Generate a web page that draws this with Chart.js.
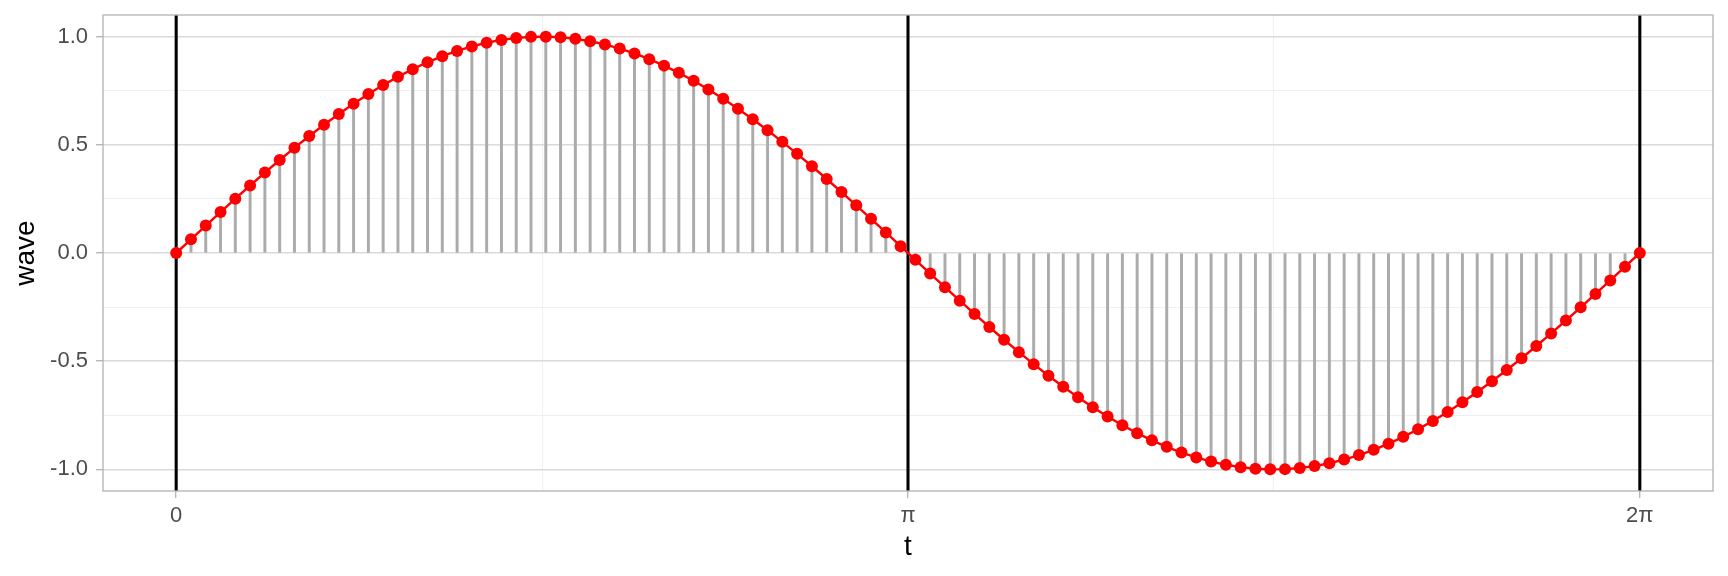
<!DOCTYPE html>
<html>
<head>
<meta charset="utf-8">
<script src="https://cdn.jsdelivr.net/npm/chart.js@4/dist/chart.umd.min.js"></script>
<style>
  html, body { margin: 0; padding: 0; background: #ffffff; }
  #wrap { width: 1728px; height: 576px; }
</style>
</head>
<body>
<div id="wrap"><canvas id="c" width="1728" height="576" style="width:1728px;height:576px"></canvas></div>
<script>
// ---- data ----
const tValues = [
  0.0000, 0.0635, 0.1269, 0.1904, 0.2539, 0.3173, 0.3808, 0.4443, 0.5077, 0.5712,
  0.6347, 0.6981, 0.7616, 0.8251, 0.8885, 0.9520, 1.0155, 1.0789, 1.1424, 1.2059,
  1.2693, 1.3328, 1.3963, 1.4597, 1.5232, 1.5867, 1.6501, 1.7136, 1.7771, 1.8405,
  1.9040, 1.9675, 2.0309, 2.0944, 2.1579, 2.2213, 2.2848, 2.3483, 2.4117, 2.4752,
  2.5387, 2.6021, 2.6656, 2.7291, 2.7925, 2.8560, 2.9195, 2.9829, 3.0464, 3.1099,
  3.1733, 3.2368, 3.3003, 3.3637, 3.4272, 3.4907, 3.5541, 3.6176, 3.6811, 3.7445,
  3.8080, 3.8715, 3.9349, 3.9984, 4.0619, 4.1253, 4.1888, 4.2523, 4.3157, 4.3792,
  4.4427, 4.5061, 4.5696, 4.6331, 4.6965, 4.7600, 4.8235, 4.8869, 4.9504, 5.0139,
  5.0773, 5.1408, 5.2043, 5.2677, 5.3312, 5.3947, 5.4581, 5.5216, 5.5851, 5.6485,
  5.7120, 5.7755, 5.8389, 5.9024, 5.9659, 6.0293, 6.0928, 6.1563, 6.2197, 6.2832
];
const waveValues = [
  0.0000, 0.0634, 0.1266, 0.1893, 0.2511, 0.3120, 0.3717, 0.4298, 0.4862, 0.5406,
  0.5929, 0.6428, 0.6901, 0.7346, 0.7761, 0.8146, 0.8497, 0.8815, 0.9096, 0.9341,
  0.9549, 0.9718, 0.9848, 0.9938, 0.9989, 0.9999, 0.9969, 0.9898, 0.9788, 0.9639,
  0.9450, 0.9224, 0.8960, 0.8660, 0.8326, 0.7958, 0.7558, 0.7127, 0.6668, 0.6182,
  0.5671, 0.5137, 0.4582, 0.4009, 0.3420, 0.2817, 0.2203, 0.1580, 0.0951, 0.0317,
  -0.0317, -0.0951, -0.1580, -0.2203, -0.2817, -0.3420, -0.4009, -0.4582, -0.5137, -0.5671,
  -0.6182, -0.6668, -0.7127, -0.7558, -0.7958, -0.8326, -0.8660, -0.8960, -0.9224, -0.9450,
  -0.9639, -0.9788, -0.9898, -0.9969, -0.9999, -0.9989, -0.9938, -0.9848, -0.9718, -0.9549,
  -0.9341, -0.9096, -0.8815, -0.8497, -0.8146, -0.7761, -0.7346, -0.6901, -0.6428, -0.5929,
  -0.5406, -0.4862, -0.4298, -0.3717, -0.3120, -0.2511, -0.1893, -0.1266, -0.0634, 0.0000
];
const vlineT = [0, 3.14159, 6.28319];
const xMajorTicks = [0, 3.14159, 6.28319];
const xMajorLabels = ['0', 'π', '2π'];
const xMinorTicks = [1.5708, 4.71239];
const yMajorTicks = [-1, -0.5, 0, 0.5, 1];
const yMinorTicks = [-0.75, -0.25, 0.25, 0.75];
const xLimits = [-0.31416, 6.59734];
const yLimits = [-1.1, 1.1];

// ---- build datasets ----
const wavePoints = tValues.map((t, i) => ({ x: t, y: waveValues[i] }));
const segmentBars = tValues.map((t, i) => ({ x: t, y: [0, waveValues[i]] }));
const vlineBars = vlineT.map(t => ({ x: t, y: [yLimits[0], yLimits[1]] }));

const isIn = (arr, v) => arr.some(a => Math.abs(a - v) < 1e-6);

const MAJOR_GRID = '#dadada';
const MINOR_GRID = '#ebebeb';
const TICK_COL = '#b3b3b3';
const TEXT_COL = '#4d4d4d';
const FONT = "'Liberation Sans', Arial, Helvetica, sans-serif";

const borderPlugin = {
  id: 'panelBorder',
  afterDatasetsDraw(chart) {
    const { ctx, chartArea: a } = chart;
    ctx.save();
    ctx.strokeStyle = '#b3b3b3';
    ctx.lineWidth = 1.3;
    ctx.strokeRect(a.left, a.top, a.right - a.left, a.bottom - a.top);
    ctx.restore();
  }
};

new Chart(document.getElementById('c'), {
  type: 'scatter',
  data: {
    datasets: [
      {
        type: 'scatter',
        label: 'points',
        data: wavePoints,
        pointRadius: 6,
        pointHoverRadius: 6,
        pointBackgroundColor: '#ff0000',
        pointBorderColor: '#ff0000',
        pointBorderWidth: 0,
        showLine: false,
        order: 0
      },
      {
        type: 'line',
        label: 'line',
        data: wavePoints,
        borderColor: '#ff0000',
        borderWidth: 2.4,
        pointRadius: 0,
        tension: 0,
        fill: false,
        order: 1
      },
      {
        type: 'bar',
        label: 'segments',
        data: segmentBars,
        backgroundColor: '#ababab',
        borderWidth: 0,
        barThickness: 2.3,
        grouped: false,
        order: 2
      },
      {
        type: 'bar',
        label: 'vlines',
        data: vlineBars,
        backgroundColor: '#000000',
        borderWidth: 0,
        barThickness: 2.4,
        grouped: false,
        order: 3
      }
    ]
  },
  options: {
    responsive: false,
    devicePixelRatio: 1,
    animation: false,
    layout: { padding: { top: 15, right: 15, left: 0, bottom: 0 } },
    plugins: {
      legend: { display: false },
      tooltip: { enabled: false },
      title: { display: false }
    },
    scales: {
      x: {
        type: 'linear',
        offset: false,
        min: xLimits[0],
        max: xLimits[1],
        afterBuildTicks: (scale) => {
          scale.ticks = xMajorTicks.concat(xMinorTicks).sort((a, b) => a - b).map(v => ({ value: v }));
        },
        afterFit: (scale) => { scale.height = 85; scale.paddingLeft = 0; scale.paddingRight = 0; },
        grid: {
          offset: false,
          drawTicks: true,
          tickLength: 7,
          tickWidth: 1.3,
          tickColor: (ctx) => (ctx.tick && isIn(xMajorTicks, ctx.tick.value)) ? TICK_COL : 'rgba(0,0,0,0)',
          color: (ctx) => (ctx.tick && isIn(xMajorTicks, ctx.tick.value)) ? MAJOR_GRID : MINOR_GRID,
          lineWidth: (ctx) => (ctx.tick && isIn(xMajorTicks, ctx.tick.value)) ? 1.4 : 0.8
        },
        border: { display: false },
        ticks: {
          autoSkip: false,
          maxRotation: 0,
          minRotation: 0,
          padding: 5,
          color: TEXT_COL,
          font: { family: FONT, size: 22 },
          callback: (value) => {
            const k = xMajorTicks.findIndex(a => Math.abs(a - value) < 1e-6);
            return k >= 0 ? xMajorLabels[k] : '';
          }
        },
        title: {
          display: true,
          text: 't',
          color: '#000000',
          font: { family: FONT, size: 28 },
          padding: { top: 0, bottom: 12 }
        }
      },
      y: {
        type: 'linear',
        min: yLimits[0],
        max: yLimits[1],
        afterBuildTicks: (scale) => {
          scale.ticks = yMajorTicks.concat(yMinorTicks).sort((a, b) => a - b).map(v => ({ value: v }));
        },
        afterFit: (scale) => { scale.width = 103; scale.paddingTop = 0; scale.paddingBottom = 0; },
        grid: {
          drawTicks: true,
          tickLength: 7,
          tickWidth: 1.3,
          tickColor: (ctx) => (ctx.tick && isIn(yMajorTicks, ctx.tick.value)) ? TICK_COL : 'rgba(0,0,0,0)',
          color: (ctx) => (ctx.tick && isIn(yMajorTicks, ctx.tick.value)) ? MAJOR_GRID : MINOR_GRID,
          lineWidth: (ctx) => (ctx.tick && isIn(yMajorTicks, ctx.tick.value)) ? 1.4 : 0.8
        },
        border: { display: false },
        ticks: {
          autoSkip: false,
          padding: 8,
          color: TEXT_COL,
          font: { family: FONT, size: 22 },
          callback: (value) => isIn(yMajorTicks, value) ? Number(value).toFixed(1) : ''
        },
        title: {
          display: true,
          text: 'wave',
          color: '#000000',
          font: { family: FONT, size: 28 },
          padding: { top: 9, bottom: 0 }
        }
      }
    }
  },
  plugins: [borderPlugin]
});
</script>
</body>
</html>
